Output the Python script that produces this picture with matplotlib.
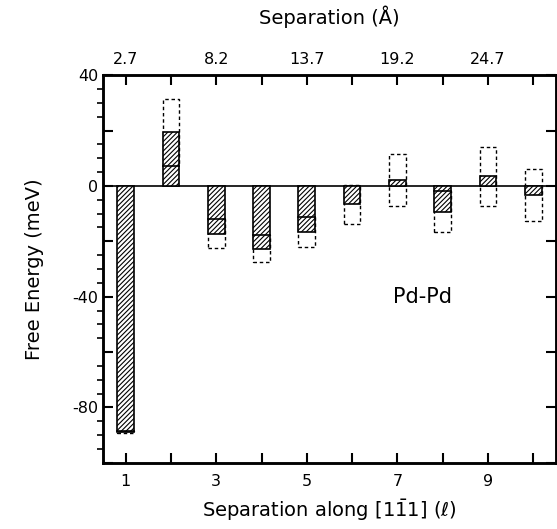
import numpy as np
import matplotlib.pyplot as plt
from matplotlib.patches import Rectangle

# data
sites = [1, 2, 3, 4, 5, 6, 7, 8, 9, 10]
energy = [-88.8, 19.3, -17.2, -22.7, -16.5, -6.6, 2.0, -9.4, 3.4, -3.3]
err = [0.4, 12.1, 5.2, 4.9, 5.4, 7.1, 9.4, 7.4, 10.5, 9.5]
top_ticks = [1, 3, 5, 7, 9]
top_labels = ['2.7', '8.2', '13.7', '19.2', '24.7']

plt.rcParams['font.family'] = 'DejaVu Sans'
plt.rcParams['hatch.linewidth'] = 0.8

fig = plt.figure(figsize=(5.57, 5.29), dpi=100)
ax = fig.add_axes([0.185, 0.125, 0.813, 0.733])

w = 0.37
# dashed error boxes
for x, e, s in zip(sites, energy, err):
    ax.add_patch(Rectangle((x - w / 2, e - s), w, 2 * s, fill=False,
                           ec='black', lw=1.0, ls=(0, (2.5, 2)), zorder=2))

ax.bar(sites, energy, width=w, color='white', edgecolor='black',
       hatch='///////', lw=1.2, zorder=3)

# edges of the error box that fall inside the hatched bar are drawn solid
for x, e, s in zip(sites, energy, err):
    for yy in (e - s, e + s):
        if min(0, e) < yy < max(0, e):
            ax.plot([x - w / 2, x + w / 2], [yy, yy], color='black', lw=1.2, zorder=4)

ax.axhline(0, color='black', lw=1.2, zorder=1)

ax.set_xlim(0.5, 10.5)
ax.set_ylim(-100, 40)
ax.set_xticks(range(1, 11))
ax.set_xticklabels([str(i) if i % 2 else '' for i in range(1, 11)])
ax.set_yticks([-100, -80, -60, -40, -20, 0, 20, 40])
ax.set_yticklabels(['', '-80', '', '-40', '', '0', '', '40'])
ax.set_yticks(np.arange(-100, 41, 5), minor=True)
ax.tick_params(axis='both', direction='in', labelsize=11.5, width=1.5, length=7)
ax.tick_params(axis='y', which='both', right=True)
ax.tick_params(axis='y', which='minor', length=4, width=1.2)
ax.tick_params(axis='x', pad=8)
for sp in ax.spines.values():
    sp.set_linewidth(1.8)

ax.set_xlabel(r'Separation along [$1\bar{1}1$] ($\ell$)', fontsize=14, labelpad=6)
ax.set_ylabel('Free Energy (meV)', fontsize=14, labelpad=20)

ax2 = ax.twiny()
ax2.set_xlim(ax.get_xlim())
ax2.set_xticks(range(1, 11))
ax2.set_xticklabels([top_labels[top_ticks.index(i)] if i in top_ticks else '' for i in range(1, 11)])
ax2.tick_params(axis='x', direction='in', labelsize=11.5, width=1.5, length=7, pad=6)
ax2.set_xlabel('Separation (Å)', fontsize=14, labelpad=20)
for sp in ax2.spines.values():
    sp.set_linewidth(1.8)

ax.text(7.55, -40, 'Pd-Pd', fontsize=15, ha='center', va='center')

fig.savefig('out.png', dpi=100)
